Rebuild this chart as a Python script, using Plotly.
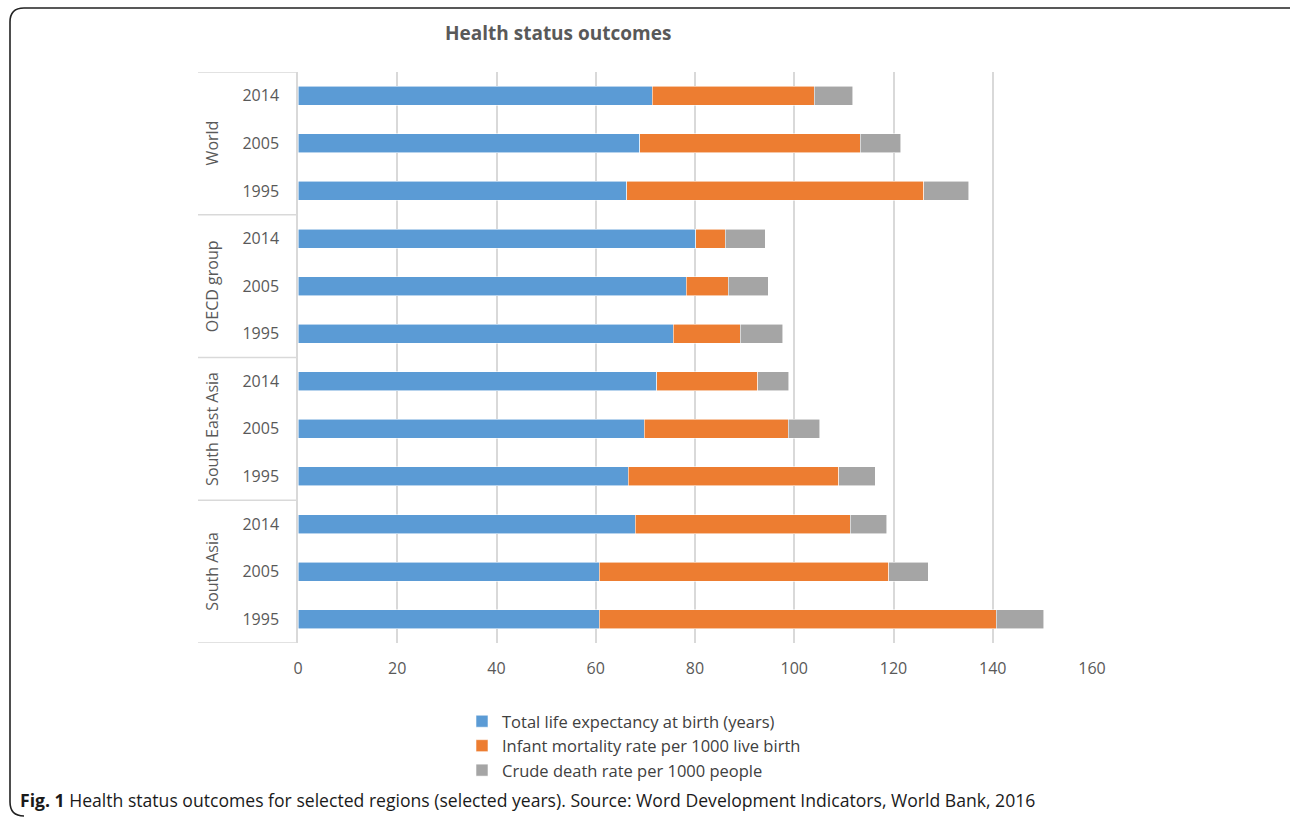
import plotly.graph_objects as go

groups = ["World", "OECD group", "South East Asia", "South Asia"]
years = ["2014", "2005", "1995"]

life_expectancy = [71.4, 68.9, 66.2, 80.1, 78.2, 75.6, 72.3, 69.8, 66.5, 68.0, 60.7, 60.7]
infant_mortality = [32.6, 44.4, 59.9, 6.0, 8.5, 13.5, 20.3, 29.0, 42.5, 43.3, 58.3, 80.0]
crude_death = [7.8, 8.2, 9.1, 8.1, 8.1, 8.6, 6.3, 6.3, 7.3, 7.3, 8.0, 9.6]

series_names = [
    "Total life expectancy at birth (years)",
    "Infant mortality rate per 1000 live birth",
    "Crude death rate per 1000 people",
]
colors = ["#5B9BD5", "#ED7D31", "#A5A5A5"]

row_labels = [y for g in groups for y in years]
row_pos = list(range(len(row_labels)))

W, H = 1290, 818
L, R, T, B = 298, 198, 72, 175
pw, ph = W - L - R, H - T - B

def px_x(px):
    return (px - L) / pw

def px_y(py):
    return (H - B - py) / ph

fig = go.Figure()
for name, vals, c in zip(series_names, [life_expectancy, infant_mortality, crude_death], colors):
    fig.add_trace(go.Bar(
        y=row_pos, x=vals, name=name, orientation="h",
        marker=dict(color=c, line=dict(color="rgba(255,255,255,0.7)", width=0.8)),
    ))

shapes = []
n_per = len(years)
for i in range(len(groups) + 1):
    yv = i * n_per - 0.5
    shapes.append(dict(type="line", xref="paper", yref="y", x0=px_x(198), x1=0,
                       y0=yv, y1=yv, line=dict(color="#d9d9d9", width=1.5)))

# rounded outer frame
x0, x1 = px_x(10), px_x(1310)
y0, y1 = px_y(816), px_y(8)
rx, ry = 14 / pw, 14 / ph
path = (f"M {x0+rx},{y1} L {x1},{y1} M {x0+rx},{y1} Q {x0},{y1} {x0},{y1-ry} "
        f"L {x0},{y0+ry} Q {x0},{y0} {x0+rx},{y0}")
shapes.append(dict(type="path", xref="paper", yref="paper", path=path,
                   line=dict(color="#222222", width=1.6)))

annotations = []
for gi, g in enumerate(groups):
    annotations.append(dict(text=g, xref="paper", yref="y", x=px_x(212), y=gi * n_per + 1,
                            xanchor="center", yanchor="middle",
                            textangle=-90, showarrow=False,
                            font=dict(family="Open Sans", size=16, color="#595959")))
annotations.append(dict(text="<b>Health status outcomes</b>", xref="paper", yref="paper",
                        x=px_x(558), y=px_y(33), xanchor="center", yanchor="middle",
                        showarrow=False,
                        font=dict(family="Open Sans", size=19, color="#595959")))
annotations.append(dict(text="<b>Fig. 1</b> Health status outcomes for selected regions (selected years). Source: Word Development Indicators, World Bank, 2016",
                        xref="paper", yref="paper", x=px_x(18), y=px_y(800),
                        xanchor="left", yanchor="middle", showarrow=False,
                        font=dict(family="Open Sans", size=17.6, color="#1a1a1a")))

fig.update_layout(
    width=W, height=H,
    margin=dict(l=L, r=R, t=T, b=B, pad=0),
    barmode="stack", bargap=0.6,
    plot_bgcolor="white", paper_bgcolor="white",
    font=dict(family="Open Sans", color="#595959"),
    shapes=shapes, annotations=annotations,
    legend=dict(x=px_x(462), y=px_y(704), xanchor="left", yanchor="top",
                orientation="v", traceorder="normal",
                font=dict(family="Open Sans", size=16.5, color="#404040"),
                itemwidth=30, tracegroupgap=0),
    xaxis=dict(range=[0, 160], dtick=20, showgrid=True, gridcolor="#d9d9d9", gridwidth=1.5,
               zeroline=False, showline=False, ticks="",
               tickfont=dict(family="Open Sans", size=16, color="#595959"),
               ticklabelstandoff=14),
    yaxis=dict(tickmode="array", tickvals=row_pos, ticktext=row_labels,
               range=[len(row_pos) - 0.5, -0.5], showgrid=False, zeroline=False,
               showline=True, linecolor="#d9d9d9", linewidth=1.5, ticks="",
               tickfont=dict(family="Open Sans", size=16, color="#595959"),
               ticklabelstandoff=14),
)

fig.write_html("out.html", config={"displayModeBar": False},
               post_script="document.body.style.margin='0px';")
